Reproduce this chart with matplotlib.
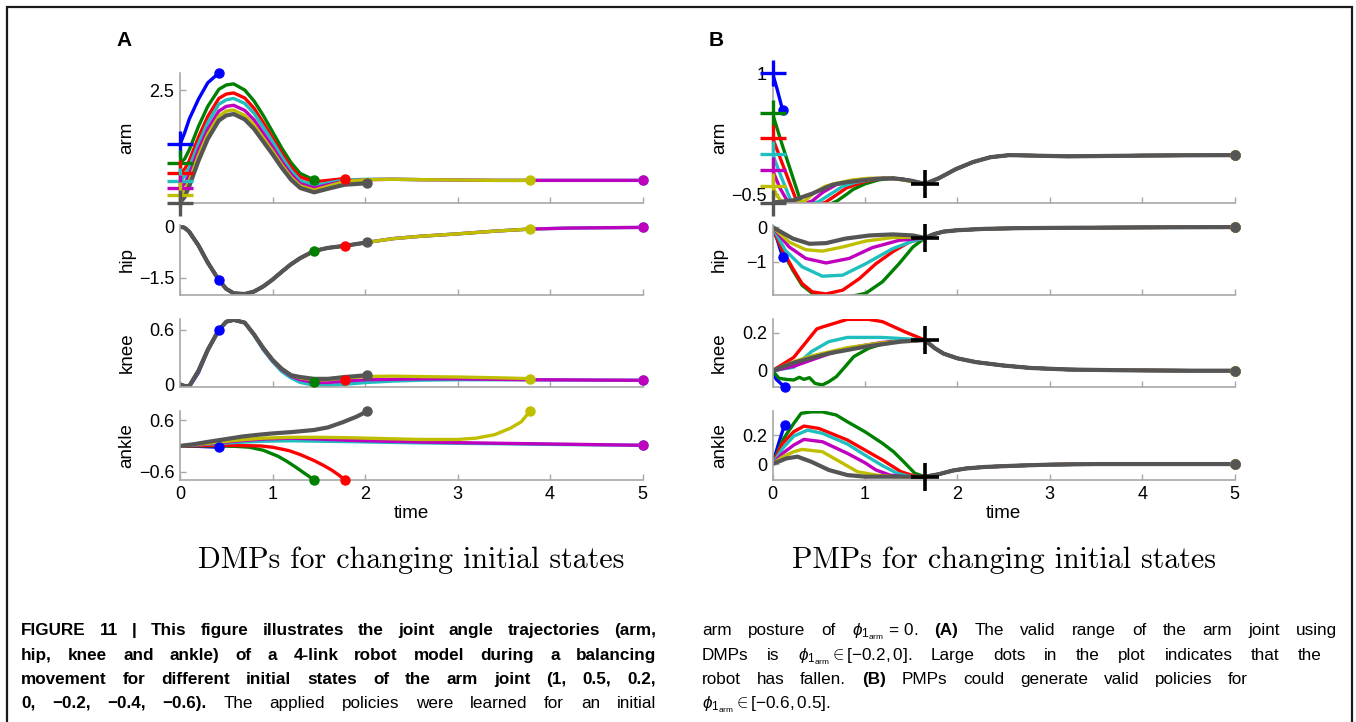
import matplotlib
matplotlib.use("Agg")
import matplotlib.pyplot as plt
from matplotlib.patches import Rectangle
from matplotlib.ticker import FuncFormatter

plt.rcParams["font.family"] = ["Liberation Sans", "DejaVu Sans"]
plt.rcParams["mathtext.fontset"] = "custom"
plt.rcParams["mathtext.rm"] = "Liberation Sans"
plt.rcParams["mathtext.it"] = "Liberation Sans:italic"
plt.rcParams["mathtext.bf"] = "Liberation Sans:bold"

# ---------------- data (order: 1, 0.5, 0.2, 0, -0.2, -0.4, -0.6) ----------------
COLORS = ["#0000ff", "#008000", "#ff0000", "#1fbfbf", "#bf00bf", "#bfbf00", "#555555"]
ARM_START = [1, 0.5, 0.2, 0, -0.2, -0.4, -0.6]

# A: DMPs, common time grid; each curve ends where the robot fell (or at t=5)
T_A = [0, 0.05, 0.1, 0.2, 0.3, 0.42, 0.5, 0.58, 0.7, 0.8, 0.9, 1.0, 1.1, 1.2,
       1.3, 1.45, 1.6, 1.78, 2.02, 2.3, 2.6, 3.0, 3.4, 3.78, 4.2, 4.6, 5.0]
A_END = [0.42, 1.45, 1.78, 5.0, 5.0, 3.78, 2.02]

A_ARM = [
    [1.0, 1.32, 1.7, 2.25, 2.7, 2.97],
    [0.5, 0.6, 0.85, 1.5, 2.05, 2.52, 2.64, 2.67, 2.5, 2.2, 1.8, 1.35, 0.9, 0.5, 0.2, 0.02],
    [0.2, 0.32, 0.55, 1.2, 1.77, 2.27, 2.39, 2.42, 2.28, 2.0, 1.6, 1.18, 0.76, 0.38, 0.1,
     -0.03, 0.01, 0.06],
    [0.0, 0.12, 0.36, 1.02, 1.6, 2.11, 2.23, 2.27, 2.13, 1.86, 1.48, 1.08, 0.66, 0.28, 0.0,
     -0.13, -0.06, 0.02, 0.04, 0.04, 0.03, 0.02, 0.01, 0.01, 0.01, 0.01, 0.01],
    [-0.2, -0.08, 0.17, 0.85, 1.42, 1.92, 2.05, 2.08, 1.94, 1.68, 1.31, 0.93, 0.53, 0.18, -0.08,
     -0.2, -0.11, -0.01, 0.03, 0.04, 0.03, 0.02, 0.01, 0.01, 0.01, 0.01, 0.01],
    [-0.4, -0.27, 0.0, 0.7, 1.28, 1.78, 1.92, 1.95, 1.8, 1.54, 1.18, 0.82, 0.44, 0.1, -0.14,
     -0.26, -0.15, -0.02, 0.03, 0.04, 0.03, 0.02, 0.01, 0.01],
    [-0.6, -0.45, -0.15, 0.55, 1.15, 1.66, 1.8, 1.84, 1.69, 1.43, 1.08, 0.73, 0.36, 0.03, -0.2,
     -0.32, -0.22, -0.11, -0.07],
]
A_HIP = [0, -0.03, -0.15, -0.55, -1.05, -1.56, -1.82, -1.95, -1.97, -1.9, -1.75, -1.55, -1.32,
         -1.1, -0.92, -0.71, -0.62, -0.56, -0.46, -0.35, -0.28, -0.21, -0.13, -0.07, -0.04,
         -0.03, -0.02]
A_KNEE = [
    [0.0, -0.03, -0.03, 0.13, 0.37, 0.6],
    [0.0, -0.02, -0.02, 0.15, 0.38, 0.6, 0.69, 0.71, 0.68, 0.55, 0.4, 0.27, 0.17, 0.1, 0.05, 0.03],
    [0.0, -0.02, -0.02, 0.15, 0.38, 0.6, 0.69, 0.71, 0.68, 0.55, 0.4, 0.27, 0.17, 0.1, 0.05,
     0.02, 0.02, 0.05],
    [0.0, -0.02, -0.02, 0.15, 0.38, 0.6, 0.69, 0.71, 0.68, 0.54, 0.38, 0.25, 0.14, 0.07, 0.02,
     -0.01, -0.01, 0.0, 0.02, 0.035, 0.045, 0.05, 0.05, 0.05, 0.047, 0.045, 0.044],
    [0.0, -0.02, -0.02, 0.15, 0.38, 0.6, 0.69, 0.71, 0.68, 0.55, 0.39, 0.26, 0.16, 0.09, 0.05,
     0.02, 0.02, 0.035, 0.05, 0.055, 0.06, 0.06, 0.055, 0.05, 0.048, 0.046, 0.044],
    [0.0, -0.02, -0.02, 0.15, 0.38, 0.6, 0.69, 0.71, 0.68, 0.55, 0.4, 0.27, 0.17, 0.1, 0.07,
     0.05, 0.05, 0.07, 0.085, 0.09, 0.085, 0.08, 0.072, 0.063],
    [0.0, -0.02, -0.02, 0.15, 0.38, 0.6, 0.69, 0.71, 0.68, 0.55, 0.4, 0.27, 0.17, 0.1, 0.08,
     0.06, 0.06, 0.08, 0.1],
]
A_ANKLE_T = [
    [0, 0.2, 0.42],
    [0, 0.2, 0.4, 0.6, 0.75, 0.9, 1.06, 1.15, 1.25, 1.35, 1.45],
    [0, 0.3, 0.6, 0.87, 1.0, 1.18, 1.3, 1.45, 1.55, 1.64, 1.72, 1.78],
    [0, 0.3, 0.6, 0.9, 1.2, 1.5, 1.83, 2.2, 2.6, 3.0, 3.5, 4.0, 4.5, 5.0],
    [0, 0.3, 0.6, 0.9, 1.2, 1.5, 1.83, 2.2, 2.6, 3.0, 3.5, 4.0, 4.5, 5.0],
    [0, 0.3, 0.6, 0.9, 1.2, 1.5, 1.83, 2.2, 2.6, 3.0, 3.2, 3.4, 3.57, 3.69, 3.78],
    [0, 0.15, 0.29, 0.5, 0.68, 0.85, 1.0, 1.2, 1.45, 1.6, 1.76, 1.91, 2.02],
]
A_ANKLE = [
    [0, -0.01, -0.03],
    [0, 0.0, 0.0, -0.01, -0.03, -0.1, -0.24, -0.35, -0.49, -0.64, -0.79],
    [0, 0.01, 0.01, 0.0, -0.03, -0.11, -0.2, -0.34, -0.45, -0.56, -0.68, -0.79],
    [0, 0.04, 0.08, 0.11, 0.12, 0.11, 0.1, 0.085, 0.07, 0.06, 0.05, 0.035, 0.025, 0.015],
    [0, 0.05, 0.11, 0.16, 0.18, 0.16, 0.13, 0.11, 0.09, 0.075, 0.06, 0.045, 0.03, 0.015],
    [0, 0.06, 0.13, 0.18, 0.2, 0.2, 0.19, 0.17, 0.15, 0.15, 0.18, 0.26, 0.41, 0.56, 0.8],
    [0, 0.04, 0.09, 0.16, 0.22, 0.26, 0.29, 0.32, 0.37, 0.43, 0.55, 0.68, 0.8],
]

# B: PMPs, every valid run passes the via point (black cross) and then shares the tail
B_VIA_T = 1.65
B_VIA = [-0.37, -0.31, 0.161, -0.087]

B_ARM_T = [
    [0, 0.05, 0.11],
    [0, 0.1, 0.2, 0.3, 0.4, 0.55, 0.7, 0.8, 0.87, 1.0, 1.15, 1.3, 1.5, 1.65],
    [0, 0.1, 0.2, 0.26, 0.4, 0.57, 0.7, 0.8, 1.0, 1.2, 1.4, 1.65],
    [0, 0.1, 0.2, 0.35, 0.5, 0.65, 0.76, 0.9, 1.05, 1.2, 1.4, 1.65],
    [0, 0.08, 0.17, 0.3, 0.43, 0.55, 0.69, 0.85, 1.0, 1.2, 1.4, 1.65],
    [0, 0.05, 0.11, 0.22, 0.35, 0.45, 0.57, 0.7, 0.87, 1.05, 1.3, 1.65],
    [0, 0.1, 0.24, 0.33, 0.43, 0.55, 0.65, 0.8, 0.94, 1.1, 1.31, 1.5, 1.65],
]
B_ARM = [
    [1.0, 0.8, 0.54],
    [0.5, 0.13, -0.22, -0.57, -0.66, -0.66, -0.58, -0.5, -0.44, -0.37, -0.32, -0.3, -0.33, -0.37],
    [0.2, -0.1, -0.4, -0.58, -0.65, -0.6, -0.5, -0.42, -0.34, -0.3, -0.31, -0.37],
    [0.0, -0.3, -0.58, -0.63, -0.59, -0.48, -0.4, -0.35, -0.32, -0.3, -0.31, -0.37],
    [-0.2, -0.42, -0.6, -0.63, -0.58, -0.47, -0.38, -0.33, -0.31, -0.3, -0.31, -0.37],
    [-0.4, -0.52, -0.6, -0.62, -0.58, -0.48, -0.4, -0.36, -0.32, -0.3, -0.3, -0.37],
    [-0.6, -0.59, -0.57, -0.53, -0.49, -0.43, -0.38, -0.35, -0.33, -0.31, -0.3, -0.33, -0.37],
]
B_ARM_TAIL_T = [1.65, 1.8, 1.98, 2.17, 2.36, 2.56, 2.8, 3.2, 3.6, 4.0, 4.5, 5.0]
B_ARM_TAIL = [-0.37, -0.3, -0.19, -0.1, -0.04, -0.015, -0.02, -0.03, -0.025, -0.02, -0.017, -0.015]

B_HIP_T = [
    [0, 0.05, 0.11],
    [0, 0.11, 0.22, 0.32, 0.43, 0.58, 0.75, 0.87, 1.01, 1.19, 1.37, 1.52, 1.65],
    [0, 0.11, 0.22, 0.32, 0.43, 0.58, 0.76, 0.94, 1.12, 1.3, 1.48, 1.65],
    [0, 0.14, 0.32, 0.54, 0.76, 1.01, 1.3, 1.52, 1.65],
    [0, 0.18, 0.36, 0.58, 0.83, 1.08, 1.37, 1.65],
    [0, 0.18, 0.36, 0.54, 0.76, 1.01, 1.3, 1.5, 1.65],
    [0, 0.22, 0.4, 0.58, 0.79, 1.05, 1.3, 1.52, 1.65],
]
B_HIP = [
    [0, -0.35, -0.86],
    [0, -0.7, -1.24, -1.67, -1.9, -2.0, -2.02, -1.98, -1.9, -1.57, -1.05, -0.57, -0.31],
    [0, -0.67, -1.19, -1.62, -1.86, -1.92, -1.81, -1.48, -1.05, -0.71, -0.43, -0.31],
    [0, -0.67, -1.14, -1.41, -1.38, -1.05, -0.62, -0.4, -0.31],
    [0, -0.57, -0.9, -1.03, -0.9, -0.59, -0.38, -0.31],
    [0, -0.43, -0.65, -0.69, -0.57, -0.4, -0.3, -0.29, -0.31],
    [0, -0.33, -0.48, -0.46, -0.33, -0.24, -0.21, -0.24, -0.31],
]
B_HIP_TAIL_T = [1.65, 1.75, 1.85, 2.0, 2.3, 2.7, 3.2, 4.0, 5.0]
B_HIP_TAIL = [-0.31, -0.2, -0.13, -0.09, -0.05, -0.03, -0.02, -0.01, 0.0]

B_KNEE_T = [
    [0, 0.04, 0.13],
    [0, 0.07, 0.15, 0.23, 0.29, 0.34, 0.4, 0.46, 0.54, 0.61, 0.69, 0.77, 0.88, 1.04, 1.27, 1.65],
    [0, 0.23, 0.48, 0.54, 0.81, 1.04, 1.19, 1.43, 1.65],
    [0, 0.23, 0.42, 0.61, 0.81, 1.19, 1.43, 1.65],
    [0, 0.23, 0.42, 0.61, 0.81, 1.19, 1.65],
    [0, 0.23, 0.42, 0.81, 1.19, 1.65],
    [0, 0.23, 0.61, 1.0, 1.39, 1.65],
]
B_KNEE = [
    [0, -0.045, -0.086],
    [0, -0.04, -0.046, -0.049, -0.035, -0.046, -0.037, -0.067, -0.075, -0.058, -0.032, 0.012,
     0.074, 0.118, 0.153, 0.161],
    [0, 0.07, 0.22, 0.23, 0.27, 0.27, 0.258, 0.205, 0.161],
    [0, 0.018, 0.1, 0.153, 0.175, 0.175, 0.168, 0.161],
    [0, 0.023, 0.056, 0.088, 0.118, 0.149, 0.161],
    [0, 0.047, 0.077, 0.121, 0.147, 0.161],
    [0, 0.042, 0.091, 0.126, 0.153, 0.161],
]
B_KNEE_TAIL_T = [1.65, 1.75, 1.85, 2.0, 2.2, 2.5, 2.8, 3.2, 3.8, 4.5, 5.0]
B_KNEE_TAIL = [0.161, 0.12, 0.09, 0.065, 0.045, 0.027, 0.014, 0.006, 0.002, 0.0, 0.0]

B_ANKLE_T = [
    [0, 0.07, 0.13],
    [0, 0.11, 0.23, 0.31, 0.42, 0.54, 0.69, 0.81, 1.0, 1.19, 1.31, 1.43, 1.54, 1.65],
    [0, 0.11, 0.23, 0.34, 0.5, 0.81, 1.0, 1.19, 1.39, 1.54, 1.65],
    [0, 0.11, 0.23, 0.38, 0.54, 0.81, 1.0, 1.19, 1.35, 1.5, 1.65],
    [0, 0.11, 0.23, 0.34, 0.54, 0.81, 1.0, 1.12, 1.27, 1.43, 1.65],
    [0, 0.11, 0.23, 0.32, 0.54, 0.73, 0.92, 1.12, 1.31, 1.65],
    [0, 0.15, 0.27, 0.42, 0.61, 0.81, 1.0, 1.65],
]
B_ANKLE = [
    [0, 0.15, 0.27],
    [0, 0.166, 0.28, 0.35, 0.36, 0.36, 0.338, 0.292, 0.223, 0.143, 0.085, 0.009, -0.064, -0.087],
    [0, 0.143, 0.223, 0.262, 0.246, 0.166, 0.097, 0.028, -0.053, -0.083, -0.087],
    [0, 0.108, 0.193, 0.234, 0.212, 0.138, 0.062, -0.011, -0.064, -0.087, -0.087],
    [0, 0.074, 0.131, 0.17, 0.154, 0.074, 0.009, -0.041, -0.076, -0.087, -0.087],
    [0, 0.05, 0.085, 0.101, 0.085, 0.016, -0.053, -0.076, -0.087, -0.087],
    [0, 0.039, 0.051, 0.016, -0.041, -0.076, -0.087, -0.087],
]
B_ANKLE_TAIL_T = [1.65, 1.8, 1.95, 2.1, 2.3, 2.6, 3.0, 3.5, 4.0, 5.0]
B_ANKLE_TAIL = [-0.087, -0.07, -0.045, -0.03, -0.02, -0.012, -0.004, 0.0, 0.0, 0.0]

JOINTS = ["arm", "hip", "knee", "ankle"]
A_YLIM = [(-0.6, 2.97), (-2.0, 0.05), (-0.03, 0.72), (-0.79, 0.81)]
A_YTICKS = [[2.5], [-1.5, 0], [0, 0.6], [-0.6, 0.6]]
B_YLIM = [(-0.6, 1.0), (-1.95, 0.06), (-0.086, 0.272), (-0.11, 0.366)]
B_YTICKS = [[-0.5, 1], [-1, 0], [0, 0.2], [0, 0.2]]

TITLES = ["DMPs for changing initial states", "PMPs for changing initial states"]
# math words must not contain blanks: captions are split on spaces
PHI = r"$\phi_{1_{\mathrm{arm}}}"
CAP_LEFT = [
    [("FIGURE 11 | This figure illustrates the joint angle trajectories (arm,", "bold")],
    [("hip, knee and ankle) of a 4-link robot model during a balancing", "bold")],
    [("movement for different initial states of the arm joint (1, 0.5, 0.2,", "bold")],
    [("0, \u22120.2, \u22120.4, \u22120.6).", "bold"),
     ("The applied policies were learned for an initial", "normal")],
]
CAP_RIGHT = [
    [("arm posture of " + PHI + r"\,=\,0$.", "normal"), ("(A)", "bold"),
     ("The valid range of the arm joint using", "normal")],
    [("DMPs is " + PHI + r"\in[-0.2,0]$. Large dots in the plot indicates that the",
      "normal")],
    [("robot has fallen.", "normal"), ("(B)", "bold"),
     ("PMPs could generate valid policies for", "normal")],
    [(PHI + r"\in[-0.6,0.5]$.", "normal")],
]
# right end of each caption line (None = natural spacing)
CAP_LEFT_END = [656, 656, 656, 656]
CAP_RIGHT_END = [1337, 1322, 1248, None]

# ---------------- figure ----------------
W, H = 1356, 722
fig = plt.figure(figsize=(W / 100, H / 100), dpi=100)


def fx(x):
    return x / W


def fy(y):
    return 1 - y / H


ROWS = [(73, 202.5), (225, 295), (319, 387), (411, 480)]
COLS = [(180, 642.5), (772.5, 1234.6)]
SPINE = "#a8a8a8"
minus_fmt = FuncFormatter(lambda v, p: f"{v:g}".replace("-", "\u2212"))


def make_ax(col, row, ylim, yticks):
    (x0, x1), (y0, y1) = COLS[col], ROWS[row]
    ax = fig.add_axes([fx(x0), fy(y1), (x1 - x0) / W, (y1 - y0) / H])
    ax.patch.set_alpha(0)
    ax.set_xlim(0, 5)
    ax.set_ylim(*ylim)
    for s in ("top", "right"):
        ax.spines[s].set_visible(False)
    for s in ("left", "bottom"):
        ax.spines[s].set_color(SPINE)
        ax.spines[s].set_linewidth(1.2)
    ax.set_xticks(range(6))
    ax.set_yticks(yticks)
    ax.yaxis.set_major_formatter(minus_fmt)
    ax.tick_params(direction="in", length=4, width=1, color=SPINE, labelsize=13, pad=4)
    if row < 3:
        ax.tick_params(labelbottom=False)
    return ax


def draw(ax, ts, vs):
    for c, t, v in zip(COLORS, ts, vs):
        lw = 3.0 if c == COLORS[-1] else 2.4
        ax.plot(t, v, color=c, lw=lw, solid_joinstyle="round", solid_capstyle="round", zorder=2)
        ax.plot(t[-1], v[-1], "o", color=c, ms=6.5, clip_on=False, zorder=4)


def with_tail(ts, vs, tail_t, tail_v):
    out_t, out_v = [], []
    for t, v in zip(ts, vs):
        if t[-1] == B_VIA_T:
            t, v = t + tail_t[1:], v + tail_v[1:]
        out_t.append(t)
        out_v.append(v)
    return out_t, out_v


# panel A
axA = [make_ax(0, r, A_YLIM[r], A_YTICKS[r]) for r in range(4)]
draw(axA[0], [T_A[:len(v)] for v in A_ARM], A_ARM)
cut = [T_A.index(e) + 1 for e in A_END]
draw(axA[1], [T_A[:n] for n in cut], [A_HIP[:n] for n in cut])
draw(axA[2], [T_A[:len(v)] for v in A_KNEE], A_KNEE)
draw(axA[3], A_ANKLE_T, A_ANKLE)

# panel B
axB = [make_ax(1, r, B_YLIM[r], B_YTICKS[r]) for r in range(4)]
draw(axB[0], *with_tail(B_ARM_T, B_ARM, B_ARM_TAIL_T, B_ARM_TAIL))
draw(axB[1], *with_tail(B_HIP_T, B_HIP, B_HIP_TAIL_T, B_HIP_TAIL))
draw(axB[2], *with_tail(B_KNEE_T, B_KNEE, B_KNEE_TAIL_T, B_KNEE_TAIL))
draw(axB[3], *with_tail(B_ANKLE_T, B_ANKLE, B_ANKLE_TAIL_T, B_ANKLE_TAIL))
for ax, v in zip(axB, B_VIA):
    ax.plot(B_VIA_T, v, "+", color="black", ms=20, mew=2.6, clip_on=False, zorder=6)

# initial-state crosses on the arm joint
for ax in (axA[0], axB[0]):
    for c, v0 in zip(COLORS, ARM_START):
        ax.plot(0, v0, "+", color=c, ms=19, mew=2.4, clip_on=False, zorder=5)

# labels
for col, letter in enumerate("AB"):
    x0, x1 = COLS[col]
    for r, name in enumerate(JOINTS):
        fig.text(fx(x0 - 53), fy(sum(ROWS[r]) / 2), name, rotation=90, fontsize=13.5,
                 ha="center", va="center")
    fig.text(fx((x0 + x1) / 2), fy(513), "time", fontsize=13.5, ha="center", va="center")
    fig.text(fx(x0 - 56), fy(41), letter, fontsize=15, fontweight="bold",
             ha="center", va="center")
    fig.text(fx((x0 + x1) / 2), fy(560), TITLES[col], family="cmr10", fontsize=21.6,
             ha="center", va="center")

# caption, word by word so the lines can be justified
CAP_FS = 12.3
renderer = fig.canvas.get_renderer()


def caption_line(x0, x1, y, segments):
    words = []
    for text, weight in segments:
        for w in text.split(" "):
            words.append(fig.text(0, fy(y), w, fontsize=CAP_FS, fontweight=weight,
                                  ha="left", va="baseline"))
    widths = [t.get_window_extent(renderer).width for t in words]
    gap = (x1 - x0 - sum(widths)) / (len(words) - 1) if x1 else 5.0
    x = x0
    for t, wd in zip(words, widths):
        t.set_x(fx(x))
        x += wd + gap


BASE = [635, 660, 684, 708]
for i, segs in enumerate(CAP_LEFT):
    caption_line(21, CAP_LEFT_END[i], BASE[i], segs)
for i, segs in enumerate(CAP_RIGHT):
    caption_line(702, CAP_RIGHT_END[i], BASE[i], segs)

fig.add_artist(Rectangle((fx(7), -0.02), fx(1352) - fx(7), fy(7) + 0.02, fill=False,
                         lw=1.6, ec="#1a1a1a", transform=fig.transFigure))

fig.savefig("out.png", dpi=100)
